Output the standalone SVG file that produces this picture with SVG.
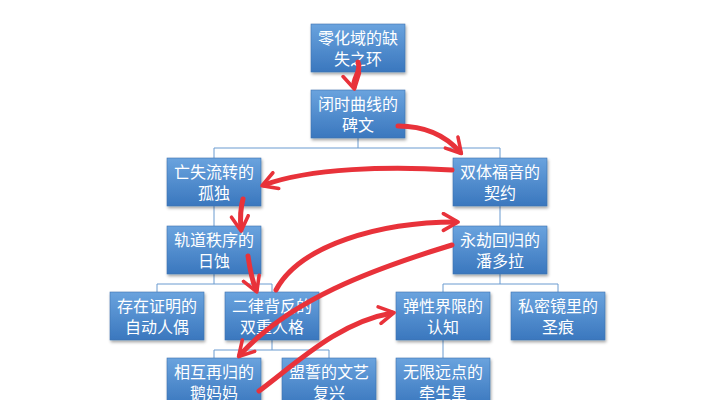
<svg xmlns="http://www.w3.org/2000/svg" width="710" height="400" viewBox="0 0 710 400">
<style>
.b{fill:url(#g);stroke:#3f72b0;stroke-width:0.6;filter:url(#s)}
.t{font-family:"Noto Sans CJK SC",sans-serif;font-size:16px;fill:#fff;text-anchor:middle}
.c{fill:none;stroke:#6a9bd0;stroke-width:1}
.r{fill:none;stroke:#e8323a;stroke-width:5;stroke-linecap:round;marker-end:url(#a)}
</style>
<defs>
<linearGradient id="g" x1="0" y1="0" x2="0" y2="1"><stop offset="0" stop-color="#6aa3de"/><stop offset="1" stop-color="#3a77be"/></linearGradient>
<filter id="s" x="-10%" y="-10%" width="130%" height="140%"><feDropShadow dx="1" dy="2" stdDeviation="1.5" flood-color="#000" flood-opacity="0.35"/></filter>
<marker id="a" viewBox="0 0 10 10" refX="7" refY="5" markerWidth="4.2" markerHeight="4.2" orient="auto" markerUnits="strokeWidth"><path d="M1,1 L8,5 L1,9" fill="none" stroke="#e8323a" stroke-width="1.7" stroke-linecap="round" stroke-linejoin="round"/></marker>
</defs>
<rect width="710" height="400" fill="#fff"/>
<g id="connectors">
<path class="c" d="M358,138V148M214,148H500M214,148V158M500,148V158"/>
<path class="c" d="M214,206V226M500,206V226"/>
<path class="c" d="M214,274V284M157,284H272M157,284V292M272,284V292"/>
<path class="c" d="M500,274V284M443,284H558M443,284V292M558,284V292"/>
<path class="c" d="M272,340V350M214,350H329M214,350V358M329,350V358"/>
<path class="c" d="M443,340V358"/>
</g>
<g id="n1"><rect class="b" x="311" y="24" width="94" height="48"/><text class="t" x="358" y="44">零化域的缺</text><text class="t" x="358" y="65">失之环</text></g>
<g id="n2"><rect class="b" x="311" y="90" width="94" height="48"/><text class="t" x="358" y="110">闭时曲线的</text><text class="t" x="358" y="131">碑文</text></g>
<g id="n3"><rect class="b" x="167" y="158" width="94" height="48"/><text class="t" x="214" y="178">亡失流转的</text><text class="t" x="214" y="199">孤独</text></g>
<g id="n4"><rect class="b" x="453" y="158" width="94" height="48"/><text class="t" x="500" y="178">双体福音的</text><text class="t" x="500" y="199">契约</text></g>
<g id="n5"><rect class="b" x="167" y="226" width="94" height="48"/><text class="t" x="214" y="246">轨道秩序的</text><text class="t" x="214" y="267">日蚀</text></g>
<g id="n6"><rect class="b" x="453" y="226" width="94" height="48"/><text class="t" x="500" y="246">永劫回归的</text><text class="t" x="500" y="267">潘多拉</text></g>
<g id="n7"><rect class="b" x="110" y="292" width="94" height="48"/><text class="t" x="157" y="312">存在证明的</text><text class="t" x="157" y="333">自动人偶</text></g>
<g id="n8"><rect class="b" x="225" y="292" width="94" height="48"/><text class="t" x="272" y="312">二律背反的</text><text class="t" x="272" y="333">双重人格</text></g>
<g id="n9"><rect class="b" x="396" y="292" width="94" height="48"/><text class="t" x="443" y="312">弹性界限的</text><text class="t" x="443" y="333">认知</text></g>
<g id="n10"><rect class="b" x="511" y="292" width="94" height="48"/><text class="t" x="558" y="312">私密镜里的</text><text class="t" x="558" y="333">圣痕</text></g>
<g id="n11"><rect class="b" x="167" y="358" width="94" height="48"/><text class="t" x="214" y="378">相互再归的</text><text class="t" x="214" y="399">鹅妈妈</text></g>
<g id="n12"><rect class="b" x="282" y="358" width="94" height="48"/><text class="t" x="329" y="378">盟誓的文艺</text><text class="t" x="329" y="399">复兴</text></g>
<g id="n13"><rect class="b" x="396" y="358" width="94" height="48"/><text class="t" x="443" y="378">无限远点的</text><text class="t" x="443" y="399">牵生星</text></g>
<g id="arrows">
<path class="r" d="M358,62 C362,72 352,78 354,87"/>
<path class="r" d="M398,126 C425,126 445,135 460,152"/>
<path class="r" d="M452,170 C390,166 310,168 264,185"/>
<path class="r" d="M243,199 C240,210 240,218 241,229"/>
<path class="r" d="M248,256 C250,270 252,280 256,290"/>
<path class="r" d="M276,290 C300,245 380,222 456,222"/>
<path class="r" d="M452,245 C370,270 290,300 240,355"/>
<path class="r" d="M259,391 C300,360 340,322 392,313"/>
</g>
</svg>
